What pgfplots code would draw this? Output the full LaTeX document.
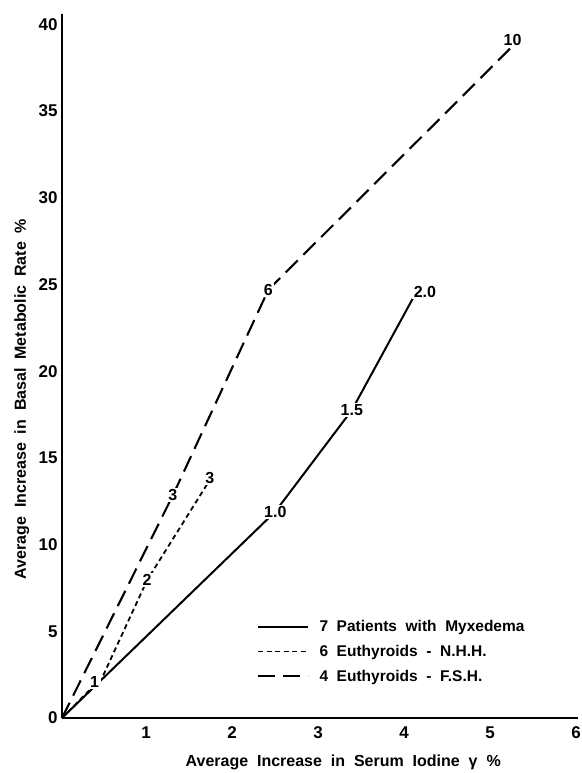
\documentclass[border=0pt]{standalone}
\usepackage{pgfplots}
\pgfplotsset{compat=1.18}
\usepackage{pgfplotstable}
\usepackage{fontspec}
\setmainfont{Liberation Sans}
\newfontfamily\widefam{Liberation Sans}[WordSpace=2.0]
\usetikzlibrary{calc}

\pgfplotstableread{
x y
0 0
2.48 11.9
3.37 17.75
4.08 24.2
}\myx
\pgfplotstableread{
x y
0 0
0.47 2.36
0.99 7.95
1.69 13.5
}\nhh
\pgfplotstableread{
x y
0 0
1.29 12.85
2.40 24.7
5.21 38.6
}\fsh
\pgfplotstableread{
x y label
2.48 11.87 1.0
3.37 17.75 1.5
4.22 24.55 2.0
}\myxlab
\pgfplotstableread{
x y label
0.38 2.05 1
0.99 7.95 2
1.72 13.85 3
}\nhhlab
\pgfplotstableread{
x y label
1.29 12.85 3
2.40 24.7 6
5.24 39.08 10
}\fshlab

\newcommand{\lblfont}{\bfseries\fontsize{16}{16}\selectfont}
\newcommand{\legfont}{\widefam\bfseries\fontsize{15.5}{15.5}\selectfont}
\newcommand{\axfont}{\widefam\bfseries\fontsize{16}{16}\selectfont}

\begin{document}
\begin{tikzpicture}
\begin{axis}[
  scale only axis,
  width=516pt, height=704pt,
  xmin=0, xmax=6, ymin=0, ymax=40.6,
  axis lines=left,
  axis line style={-, line width=2.4pt},
  xtick={1,2,3,4,5,6},
  ytick={0,5,10,15,20,25,30,35,40},
  major tick length=0pt,
  /pgf/number format/assume math mode=true,
  tick label style={font=\bfseries\fontsize{17}{17}\selectfont},
  xticklabel style={yshift=-5pt, xshift=-2pt},
  yticklabel style={xshift=-1pt},
  xlabel={Average Increase in Serum Iodine γ \%},
  ylabel={Average Increase in Basal Metabolic Rate \%},
  label style={font=\axfont},
  xlabel style={at={(axis description cs:0.545,0)}, anchor=center, yshift=-44pt},
  ylabel style={at={(axis description cs:-0.078,0.453)}, anchor=center},
  clip=false,
  legend image code/.code={\draw[#1] (0pt,0pt) -- (50pt,0pt); \path (58pt,0pt);},
  legend style={draw=none, fill=none, at={(axis cs:2.27,5.75)}, anchor=north west,
    font=\legfont, row sep=8pt, inner sep=0pt},
  legend cell align=left,
]
\coordinate (O) at (axis cs:0,0);
\addplot[black, line width=2pt] table {\myx};
\addlegendentry{7 Patients with Myxedema}
\addplot[black, line width=1.8pt, dash pattern=on 5pt off 3.5pt] table {\nhh};
\addlegendentry{6 Euthyroids - N.H.H.}
\addplot[black, line width=2.1pt, dash pattern=on 17pt off 8pt] table {\fsh};
\addlegendentry{4 Euthyroids - F.S.H.}

\addplot[forget plot, draw=none, mark=none, nodes near coords, point meta=explicit symbolic,
  nodes near coords style={anchor=center, font=\lblfont, fill=white, inner sep=1.5pt}]
  table[meta=label] {\myxlab};
\addplot[forget plot, draw=none, mark=none, nodes near coords, point meta=explicit symbolic,
  nodes near coords style={anchor=center, font=\lblfont, fill=white, inner sep=1.5pt}]
  table[meta=label] {\nhhlab};
\addplot[forget plot, draw=none, mark=none, nodes near coords, point meta=explicit symbolic,
  nodes near coords style={anchor=center, font=\lblfont, fill=white, inner sep=1.5pt}]
  table[meta=label] {\fshlab};
\end{axis}
\pgfresetboundingbox
\path ($(O)+(-62pt,-55pt)$) rectangle ($(O)+(519pt,718pt)$);
\end{tikzpicture}
\end{document}
